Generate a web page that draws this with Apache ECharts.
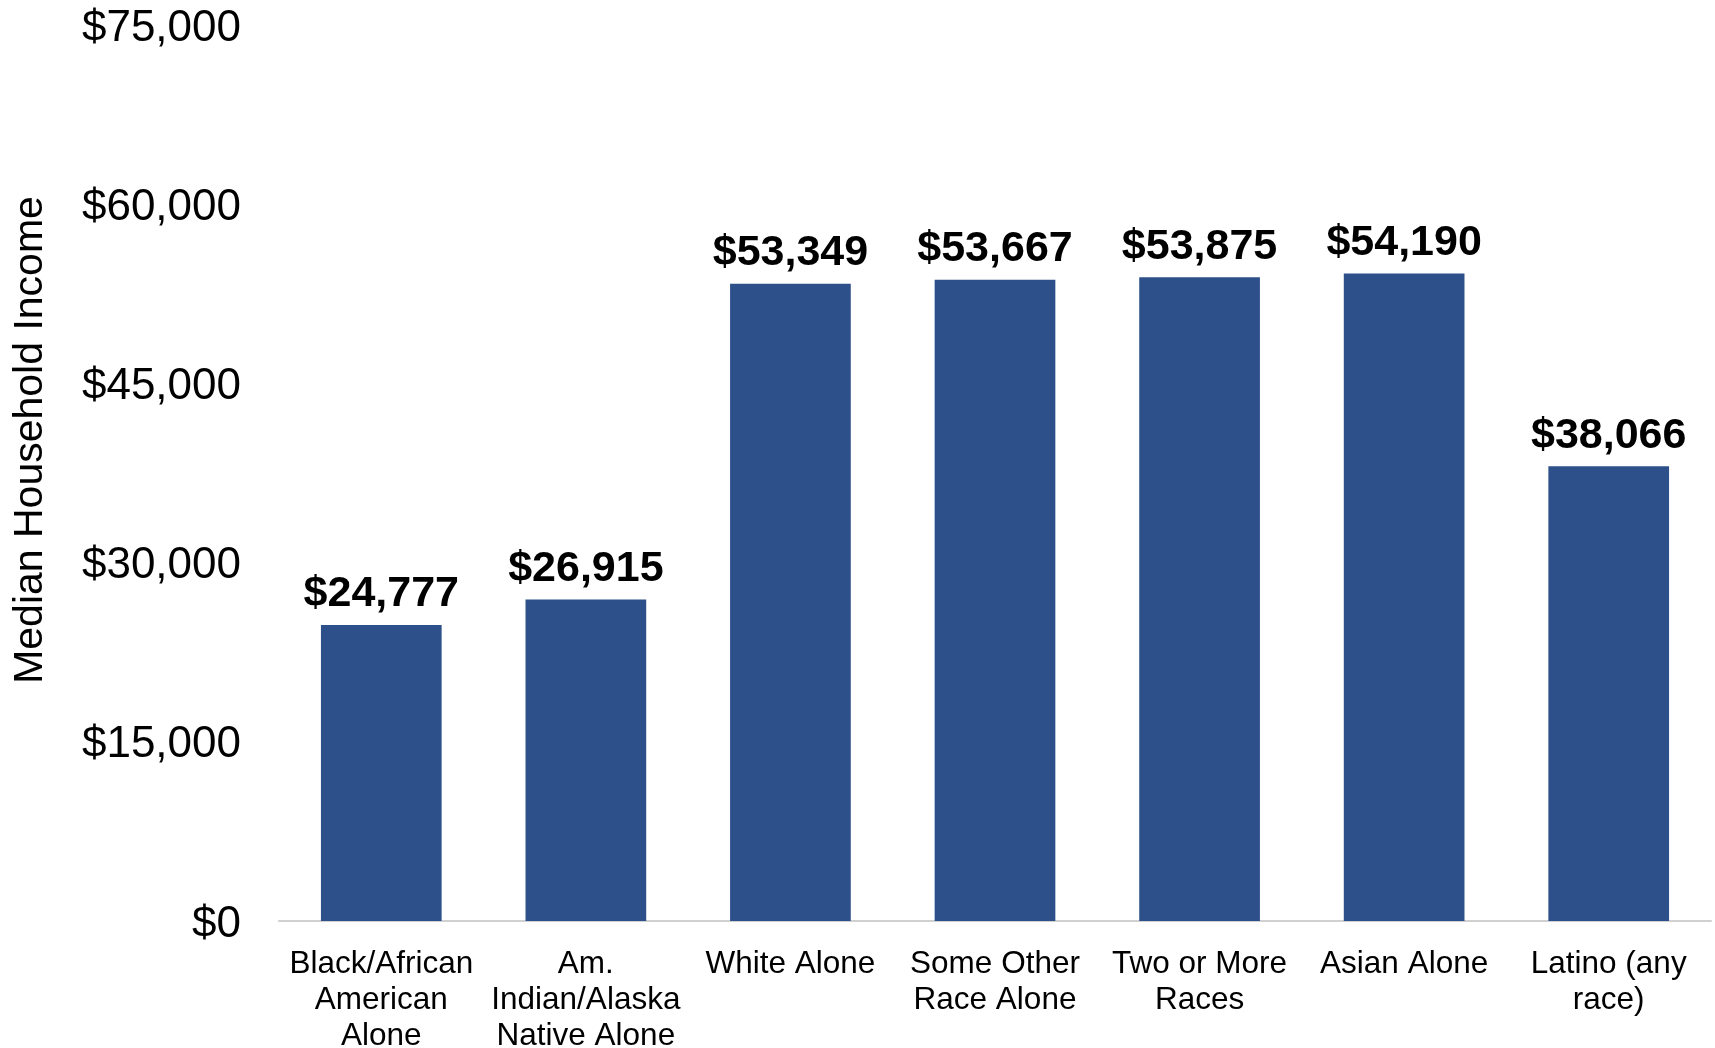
<!DOCTYPE html>
<html>
<head>
<meta charset="utf-8">
<title>Median Household Income by Race and Ethnicity</title>
<script src="https://cdn.jsdelivr.net/npm/echarts@6/dist/echarts.min.js"></script>
<style>
  html, body { margin: 0; padding: 0; background: #ffffff; }
  #chart { width: 1715px; height: 1048px; }
</style>
</head>
<body>
<div id="chart"></div>
<script>
// Category labels (line breaks as printed under each bar)
const categories = [
  'Black/African\nAmerican\nAlone',
  'Am.\nIndian/Alaska\nNative Alone',
  'White Alone',
  'Some Other\nRace Alone',
  'Two or More\nRaces',
  'Asian Alone',
  'Latino (any\nrace)'
];

// Median household income, in dollars
const incomeValues = [24777, 26915, 53349, 53667, 53875, 54190, 38066];

// Value axis ticks
const yTicks = [0, 15000, 30000, 45000, 60000, 75000];

const axisTitle = 'Median Household Income';

function dollars(v) {
  return '$' + Math.round(v).toLocaleString('en-US');
}

const chart = echarts.init(document.getElementById('chart'), null, { renderer: 'canvas' });

chart.setOption({
  backgroundColor: '#ffffff',
  animation: false,
  grid: {
    left: 279, right: 4, top: 25, bottom: 127,
    containLabel: false,
    outerBoundsMode: 'none'
  },
  xAxis: {
    type: 'category',
    data: categories,
    axisLine: { show: true, lineStyle: { color: '#d0d0d0', width: 2 } },
    axisTick: { show: false },
    axisLabel: {
      interval: 0,
      margin: 25,
      color: '#000000',
      fontFamily: '"Liberation Sans", Arial, sans-serif',
      fontSize: 31.5,
      lineHeight: 36,
      align: 'center'
    }
  },
  yAxis: {
    type: 'value',
    min: yTicks[0],
    max: yTicks[yTicks.length - 1],
    interval: yTicks[1] - yTicks[0],
    axisLine: { show: false },
    axisTick: { show: false },
    splitLine: { show: false },
    axisLabel: {
      margin: 38,
      color: '#000000',
      fontFamily: '"Liberation Sans", Arial, sans-serif',
      fontSize: 44,
      formatter: v => '{t|' + dollars(v) + '}',
      rich: {
        t: {
          fontFamily: '"Liberation Sans", Arial, sans-serif',
          fontSize: 44,
          color: '#000000',
          padding: [7, 0, 0, 0]
        }
      }
    }
  },
  graphic: [{
    type: 'text',
    x: 31,
    y: 440,
    rotation: Math.PI / 2,
    style: {
      text: axisTitle,
      fill: '#000000',
      font: '41px "Liberation Sans", Arial, sans-serif',
      textAlign: 'center',
      textVerticalAlign: 'middle'
    }
  }],
  series: [{
    type: 'bar',
    data: incomeValues,
    barWidth: '59%',
    itemStyle: { color: '#2d508a' },
    label: {
      show: true,
      position: 'top',
      distance: 9,
      color: '#000000',
      fontFamily: '"Liberation Sans", Arial, sans-serif',
      fontWeight: 'bold',
      fontSize: 43,
      formatter: p => dollars(p.value)
    }
  }]
});
</script>
</body>
</html>
